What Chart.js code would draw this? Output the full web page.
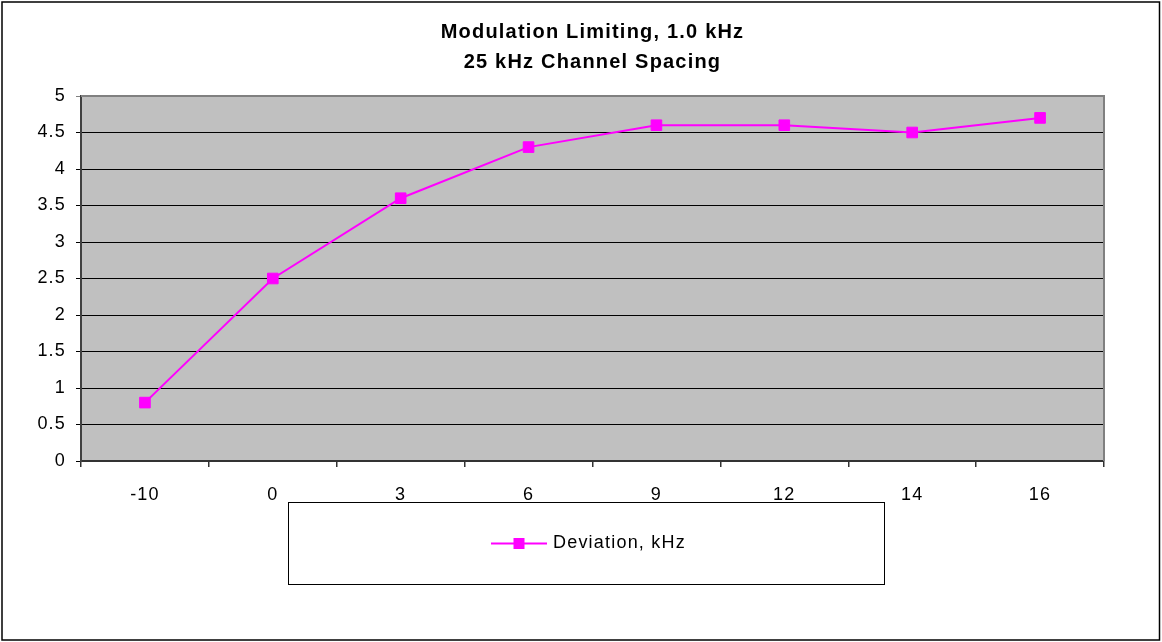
<!DOCTYPE html>
<html>
<head>
<meta charset="utf-8">
<script src="https://cdn.jsdelivr.net/npm/chart.js@4.4.1/dist/chart.umd.min.js"></script>
<style>
  html, body { margin: 0; padding: 0; background: #fff; }
  #wrap { width: 1162px; height: 642px; }
</style>
</head>
<body>
<div id="wrap"><canvas id="limiting" width="1162" height="642"></canvas></div>
<script>
var titleLines = ['Modulation Limiting, 1.0 kHz', '25 kHz Channel Spacing'];
var levels = ['-10', '0', '3', '6', '9', '12', '14', '16'];
var deviation = [0.8, 2.5, 3.6, 4.3, 4.6, 4.6, 4.5, 4.7];
var seriesName = 'Deviation, kHz';

var fontFamily = "'Liberation Sans', Arial, sans-serif";

// grey plot area, frame lines and the outer border
var frame = {
  id: 'frame',
  beforeDraw: function(chart) {
    var c = chart.ctx, a = chart.chartArea;
    // the old spreadsheet text is set a little loose
    c.letterSpacing = '1.2px';
    c.save();
    c.fillStyle = '#fff';
    c.fillRect(0, 0, chart.width, chart.height);
    c.fillStyle = '#C0C0C0';
    c.fillRect(a.left, a.top, a.right - a.left, a.bottom - a.top);
    c.strokeStyle = '#000';
    c.lineWidth = 1.5;
    c.strokeRect(2, 2, chart.width - 4.5, chart.height - 4);
    c.restore();
  },
  beforeDatasetsDraw: function(chart) {
    var c = chart.ctx, a = chart.chartArea;
    c.save();
    c.strokeStyle = '#808080';
    c.lineWidth = 2;
    c.beginPath();
    c.moveTo(a.left, a.top);
    c.lineTo(a.right, a.top);
    c.lineTo(a.right, a.bottom);
    c.stroke();
    c.restore();
  }
};

// boxed legend under the x axis
var boxLegend = {
  id: 'boxLegend',
  afterDraw: function(chart) {
    var c = chart.ctx;
    var ds = chart.data.datasets[0];
    var box = { x: 288, y: 502.5, w: 596, h: 82 };
    var cy = box.y + box.h / 2;
    c.save();
    c.strokeStyle = '#000';
    c.lineWidth = 1;
    c.strokeRect(box.x + 0.5, box.y, box.w, box.h);
    c.strokeStyle = ds.borderColor;
    c.lineWidth = ds.borderWidth;
    c.beginPath();
    c.moveTo(491, cy);
    c.lineTo(547, cy);
    c.stroke();
    c.fillStyle = ds.pointBackgroundColor;
    c.fillRect(519 - 5.5, cy - 5.5, 11, 11);
    c.fillStyle = '#000';
    c.font = '18px ' + fontFamily;
    c.textBaseline = 'middle';
    c.textAlign = 'left';
    c.fillText(ds.label, 553, cy);
    c.restore();
  }
};

new Chart(document.getElementById('limiting'), {
  type: 'line',
  data: {
    labels: levels,
    datasets: [{
      label: seriesName,
      data: deviation,
      borderColor: '#FF00FF',
      backgroundColor: '#FF00FF',
      pointBackgroundColor: '#FF00FF',
      pointBorderColor: '#FF00FF',
      borderWidth: 2,
      pointStyle: 'rect',
      pointRadius: 7.5,
      pointBorderWidth: 1,
      tension: 0
    }]
  },
  options: {
    responsive: false,
    animation: false,
    layout: { padding: { left: 0, right: 58, top: 0, bottom: 121 } },
    plugins: {
      legend: { display: false },
      tooltip: { enabled: false },
      title: {
        display: true,
        fullSize: false,   // centre the title over the plot, not the canvas
        text: titleLines,
        color: '#000',
        font: { family: fontFamily, size: 20, weight: 'bold', lineHeight: 30 / 20 },
        padding: { top: 17, bottom: 19 }
      }
    },
    scales: {
      x: {
        offset: true,
        afterFit: function(s) { s.height = 60; },
        grid: { display: true, offset: true, drawOnChartArea: false, drawTicks: true, tickLength: 6, color: '#333', lineWidth: 1.5 },
        border: { color: '#333', width: 2 },
        ticks: { color: '#000', font: { family: fontFamily, size: 18 }, padding: 17, maxRotation: 0 }
      },
      y: {
        min: 0,
        max: 5,
        afterFit: function(s) { s.width = 81; },
        grid: {
          color: function(ctx) { return ctx.tick && ctx.tick.value === 5 ? '#808080' : '#000'; },
          lineWidth: 1,
          tickLength: 5
        },
        border: { color: '#404040', width: 2 },
        ticks: {
          stepSize: 0.5,
          color: '#000',
          font: { family: fontFamily, size: 18 },
          padding: 10,
          callback: function(v) { return String(v); }
        }
      }
    }
  },
  plugins: [frame, boxLegend]
});
</script>
</body>
</html>
